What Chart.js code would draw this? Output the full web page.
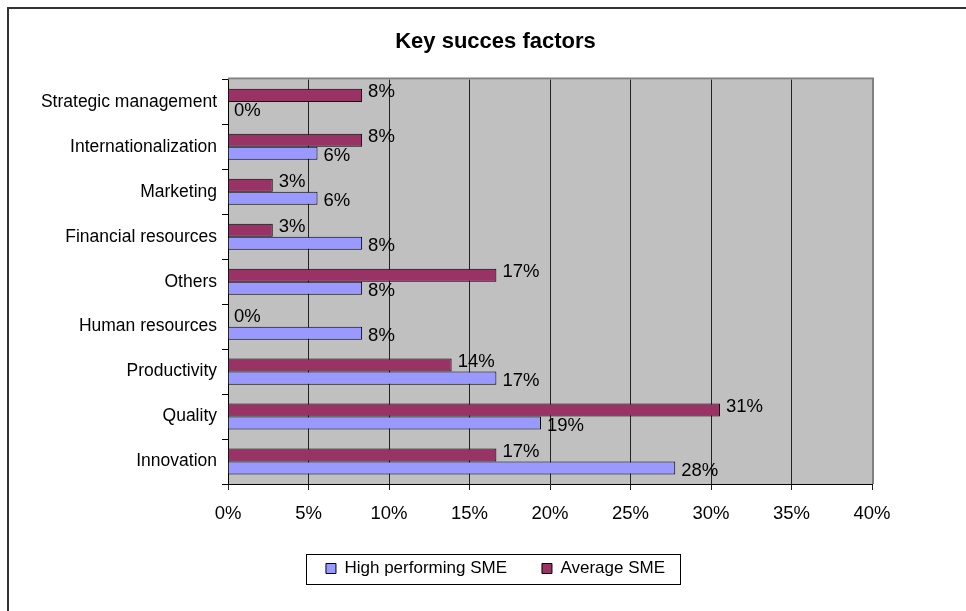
<!DOCTYPE html>
<html>
<head>
<meta charset="utf-8">
<title>Key succes factors</title>
<script src="https://cdn.jsdelivr.net/npm/chart.js@4.4.1/dist/chart.umd.min.js"></script>
<style>
  html, body { margin: 0; padding: 0; background: #fff; }
  canvas { display: block; }
</style>
</head>
<body>
<canvas id="successChart" width="966" height="611"></canvas>
<script>
// Factors, listed top to bottom
const factors = [
    'Strategic management',
    'Internationalization',
    'Marketing',
    'Financial resources',
    'Others',
    'Human resources',
    'Productivity',
    'Quality',
    'Innovation'
];

// Share of answers (%) per factor
const averageSME = [8.33, 8.33, 2.78, 2.78, 16.67, 0, 13.89, 30.56, 16.67];
const highPerformingSME = [0, 5.56, 5.56, 8.33, 8.33, 8.33, 16.67, 19.44, 27.78];

const percentTicks = [0, 5, 10, 15, 20, 25, 30, 35, 40];

const FONT = "'Liberation Sans', Arial, sans-serif";
const pct = v => Math.round(v) + '%';

// Page frame, grey plot background and the legend outline
const frame = {
    id: 'frame',
    beforeDraw(chart) {
        const { ctx, chartArea: a } = chart;
        ctx.save();
        ctx.fillStyle = '#fff';
        ctx.fillRect(0, 0, chart.width, chart.height);
        ctx.fillStyle = '#c0c0c0';
        ctx.fillRect(a.left, a.top, a.right - a.left, a.bottom - a.top);
        ctx.strokeStyle = '#333';
        ctx.lineWidth = 2;
        ctx.beginPath();
        ctx.moveTo(8, chart.height);
        ctx.lineTo(8, 8);
        ctx.lineTo(chart.width, 8);
        ctx.stroke();
        ctx.restore();
    },
    afterDraw(chart) {
        const { ctx, chartArea: a } = chart;
        ctx.save();
        // top and right edge of the plot area
        ctx.strokeStyle = '#808080';
        ctx.lineWidth = 2;
        ctx.beginPath();
        ctx.moveTo(a.left, a.top - 1);
        ctx.lineTo(a.right + 1, a.top - 1);
        ctx.lineTo(a.right + 1, a.bottom);
        ctx.stroke();

        // box round the legend
        const hb = chart.legend.legendHitBoxes;
        if (hb && hb.length) {
            const left = Math.min(...hb.map(h => h.left)) - 20;
            const right = Math.max(...hb.map(h => h.left + h.width)) + 15;
            const cy = hb[0].top + hb[0].height / 2;
            ctx.strokeStyle = '#000';
            ctx.lineWidth = 1;
            ctx.strokeRect(Math.round(left) + 0.5, Math.round(cy - 15) + 0.5, Math.round(right - left), 30);
        }
        ctx.restore();
    }
};

// Value text at the end of each bar
const valueLabels = {
    id: 'valueLabels',
    afterDatasetsDraw(chart) {
        const { ctx } = chart;
        ctx.save();
        ctx.font = '18.5px ' + FONT;
        ctx.fillStyle = '#000';
        ctx.textAlign = 'left';
        ctx.textBaseline = 'middle';
        chart.data.datasets.forEach((ds, d) => {
            const meta = chart.getDatasetMeta(d);
            const dy = d === 0 ? -3 : 3;
            meta.data.forEach((bar, i) => {
                ctx.fillText(pct(ds.data[i]), bar.x + 6, bar.y + dy);
            });
        });
        ctx.restore();
    }
};

new Chart(document.getElementById('successChart'), {
    type: 'bar',
    data: {
        labels: factors,
        datasets: [{
            label: 'Average SME',
            data: averageSME,
            backgroundColor: '#993366',
            borderColor: '#000',
            borderWidth: 1,
            categoryPercentage: 0.58,
            barPercentage: 1
        }, {
            label: 'High performing SME',
            data: highPerformingSME,
            backgroundColor: '#9999ff',
            borderColor: '#000',
            borderWidth: 1,
            categoryPercentage: 0.58,
            barPercentage: 1
        }]
    },
    options: {
        indexAxis: 'y',
        responsive: false,
        animation: false,
        devicePixelRatio: 1,
        layout: { padding: { left: 25, right: 0, top: 0, bottom: 24 } },
        plugins: {
            title: {
                display: true,
                text: 'Key succes factors',
                color: '#000',
                font: { family: FONT, size: 22, weight: 'bold' },
                padding: { top: 29, bottom: 24 }
            },
            legend: {
                position: 'bottom',
                reverse: true,
                labels: {
                    boxWidth: 10,
                    boxHeight: 10,
                    padding: 35,
                    color: '#000',
                    font: { family: FONT, size: 17 }
                }
            },
            tooltip: { enabled: false }
        },
        scales: {
            x: {
                min: 0,
                max: 40,
                afterBuildTicks: s => { s.ticks = percentTicks.map(v => ({ value: v })); },
                afterFit: s => { s.paddingRight = 94; s.height = 41; },
                grid: { color: '#222', tickLength: 6 },
                border: { color: '#000', width: 1 },
                ticks: {
                    color: '#000',
                    padding: 13,
                    font: { family: FONT, size: 18.5 },
                    callback: v => v + '%'
                }
            },
            y: {
                afterFit: s => { s.width = 203; },
                grid: { offset: true, drawOnChartArea: false, tickLength: 6, color: '#000' },
                border: { color: '#000', width: 1 },
                ticks: {
                    color: '#000',
                    padding: 5,
                    font: { family: FONT, size: 17.5 }
                }
            }
        }
    },
    plugins: [frame, valueLabels]
});
</script>
</body>
</html>
